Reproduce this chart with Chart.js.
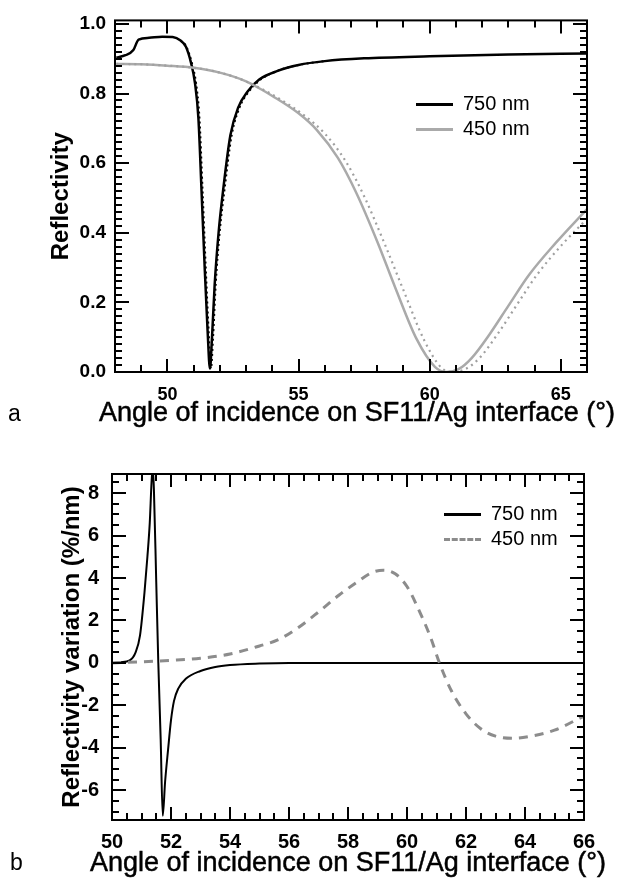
<!DOCTYPE html>
<html>
<head>
<meta charset="utf-8">
<script src="https://cdn.jsdelivr.net/npm/chart.js@4.4.1/dist/chart.umd.min.js"></script>
<style>
  body { margin: 0; background: #fff; font-family: 'Liberation Sans', Arial, sans-serif; }
  #wrap { position: relative; width: 618px; height: 878px; }
  canvas { position: absolute; left: 0; }
  .lg { position: absolute; font-size: 20px; line-height: 24px; color: #000; white-space: nowrap; }
  .lg span.sw { display: inline-block; width: 37px; vertical-align: middle; margin-right: 10px; }
  .panel { position: absolute; font-size: 23px; line-height: 26px; }
  .xt { position: absolute; font-size: 27px; line-height: 30px; color: #000; white-space: nowrap; -webkit-text-stroke: 0.5px #000; }
</style>
</head>
<body>
<div id="wrap">
  <canvas id="chartA" width="618" height="438" style="top:0"></canvas>
  <canvas id="chartB" width="618" height="438" style="top:440px"></canvas>
  <div class="lg" style="left:416px;top:91px"><span class="sw" style="border-top:3px solid #000"></span>750 nm</div>
  <div class="lg" style="left:416px;top:116px"><span class="sw" style="border-top:3px solid #aaa"></span>450 nm</div>
  <div class="lg" style="left:444px;top:501px"><span class="sw" style="border-top:3px solid #000"></span>750 nm</div>
  <div class="lg" style="left:444px;top:526px"><span class="sw" style="border-top:3px dashed #8c8c8c"></span>450 nm</div>
  <div class="xt" style="left:99px;top:397px">Angle of incidence on SF11/Ag interface (°)</div>
  <div class="xt" style="left:90px;top:847px">Angle of incidence on SF11/Ag interface (°)</div>
  <div class="panel" style="left:8px;top:400px">a</div>
  <div class="panel" style="left:10px;top:849px">b</div>
</div>
<script>
// ---- panel a: reflectivity ----
const angleA750 = [48.05, 48.4, 48.7, 48.9, 49.3, 49.8, 50.2, 50.5, 50.7, 50.9, 51.05, 51.18, 51.3, 51.42, 51.53, 51.62, 51.7, 51.8, 51.95, 52.12, 52.4, 52.7, 53.05, 53.5, 54.2, 55.0, 56.0, 57.5, 60.0, 63.0, 66.0];
const reflA750 = [0.903, 0.91, 0.925, 0.955, 0.96, 0.963, 0.962, 0.952, 0.935, 0.888, 0.83, 0.73, 0.52, 0.3, 0.12, 0.01, 0.1, 0.25, 0.4, 0.52, 0.68, 0.76, 0.805, 0.84, 0.865, 0.882, 0.893, 0.901, 0.907, 0.912, 0.915];
// dotted companion of the 750 nm curve (almost on top of it)
const angleA750dot = [50.5, 50.72, 50.93, 51.09, 51.22, 51.34, 51.46, 51.57, 51.66, 51.74, 51.84, 51.99, 52.17, 52.45, 52.75, 53.1, 53.55, 54.2, 55.0, 56.0];
const reflA750dot = [0.952, 0.935, 0.888, 0.83, 0.73, 0.52, 0.3, 0.12, 0.01, 0.1, 0.25, 0.4, 0.52, 0.68, 0.76, 0.805, 0.84, 0.865, 0.882, 0.893];
const angleA450 = [48.05, 49, 50, 51, 52, 53, 53.5, 54, 55, 55.7, 56.5, 57.2, 58.0, 58.7, 59.5, 60.2, 60.65, 61.1, 61.6, 62.3, 63.0, 63.8, 64.8, 66.0];
const reflA450 = [0.885, 0.884, 0.88, 0.874, 0.86, 0.835, 0.815, 0.793, 0.743, 0.695, 0.615, 0.515, 0.375, 0.24, 0.095, 0.015, 0.0, 0.008, 0.04, 0.11, 0.19, 0.28, 0.37, 0.468];
const angleA450dot = [48.05, 49, 50, 51, 52, 53, 53.6, 54.2, 55.2, 56.0, 56.8, 57.5, 58.3, 59.0, 59.8, 60.45, 60.9, 61.35, 61.9, 62.6, 63.3, 64.1, 65.1, 66.0];
const reflA450dot = [0.885, 0.884, 0.88, 0.874, 0.86, 0.835, 0.813, 0.788, 0.738, 0.685, 0.605, 0.505, 0.365, 0.235, 0.09, 0.012, 0.0, 0.008, 0.04, 0.11, 0.19, 0.28, 0.37, 0.44];
const xTicksA = [50, 55, 60, 65];
const yTicksA = [0, 0.2, 0.4, 0.6, 0.8, 1.0];

// ---- panel b: reflectivity variation ----
const angleB750 = [50.0, 50.3, 50.6, 50.8, 50.95, 51.1, 51.2, 51.28, 51.34, 51.38, 51.42, 51.5, 51.57, 51.65, 51.72, 51.8, 51.9, 52.0, 52.1, 52.25, 52.5, 53.0, 53.5, 54.0, 55.0, 56.0, 66.0];
const varB750 = [0.0, 0.03, 0.12, 0.5, 1.3, 3.3, 5.0, 6.6, 8.5, 9.2, 8.2, 3.8, 0.0, -3.6, -7.2, -5.6, -4.1, -2.7, -1.8, -1.2, -0.75, -0.38, -0.19, -0.1, -0.03, 0.0, 0.0];
const angleB450 = [50, 51, 52, 53, 54, 55, 55.6, 56.3, 57, 57.7, 58.3, 58.8, 59.2, 59.6, 60.0, 60.4, 60.8, 61.1, 61.5, 62.0, 62.5, 63.0, 63.6, 64.2, 65.0, 66.0];
const varB450 = [0.0, 0.05, 0.12, 0.22, 0.42, 0.8, 1.07, 1.65, 2.4, 3.2, 3.8, 4.25, 4.37, 4.2, 3.6, 2.5, 1.2, 0.0, -1.3, -2.4, -3.1, -3.45, -3.55, -3.45, -3.17, -2.5];
const xTicksB = [50, 52, 54, 56, 58, 60, 62, 64, 66];
const yTicksB = [-6, -4, -2, 0, 2, 4, 6, 8];

const pts = (xs, ys) => xs.map((x, i) => ({ x: x, y: ys[i] }));
const FONT = "'Liberation Sans', Arial, sans-serif";

// frame + inward ticks on all four sides
const frameTicks = {
  id: 'frameTicks',
  afterDatasetsDraw(chart, args, o) {
    const { ctx, chartArea: a, scales: { x, y } } = chart;
    ctx.save();
    ctx.strokeStyle = '#000';
    ctx.lineWidth = 2;
    ctx.beginPath();
    const steps = (min, max, step) => {
      const out = [];
      for (let v = Math.ceil(min / step - 1e-6) * step; v <= max + 1e-6; v += step) out.push(+v.toFixed(4));
      return out;
    };
    const isMajor = (v, step) => Math.abs(v / step - Math.round(v / step)) < 1e-4;
    steps(x.min, x.max, o.xMinor).forEach(v => {
      const px = Math.round(x.getPixelForValue(v));
      const len = isMajor(v, o.xMajor) ? o.majLen : o.minLen;
      ctx.moveTo(px, a.bottom); ctx.lineTo(px, a.bottom - len);
      ctx.moveTo(px, a.top); ctx.lineTo(px, a.top + len);
    });
    steps(y.min, y.max, o.yMinor).forEach(v => {
      const py = Math.round(y.getPixelForValue(v));
      const len = isMajor(v, o.yMajor) ? o.majLen + 1 : o.minLen;
      ctx.moveTo(a.left, py); ctx.lineTo(a.left + len, py);
      ctx.moveTo(a.right, py); ctx.lineTo(a.right - len, py);
    });
    ctx.stroke();
    ctx.strokeRect(a.left, a.top, a.right - a.left, a.bottom - a.top);
    ctx.restore();
  }
};

function axisX(min, max, ticks, size, pad, height) {
  return {
    type: 'linear', min: min, max: max,
    grid: { display: false, drawTicks: false },
    border: { display: false },
    afterBuildTicks: s => { s.ticks = ticks.map(v => ({ value: v })); },
    afterFit: s => { s.height = height; },
    ticks: { color: '#000', font: { family: FONT, size: size, weight: 'bold' }, padding: pad, maxRotation: 0, autoSkip: false },
    title: { display: false }
  };
}

function axisY(min, max, ticks, fmt, size, pad, title, titlePad, width) {
  return {
    type: 'linear', min: min, max: max,
    grid: { display: false, drawTicks: false },
    border: { display: false },
    afterBuildTicks: s => { s.ticks = ticks.map(v => ({ value: v })); },
    afterFit: s => { s.width = width; },
    ticks: { color: '#000', font: { family: FONT, size: size, weight: 'bold' }, padding: pad, callback: fmt },
    title: { display: true, text: title, color: '#000',
             font: { family: FONT, size: 24, weight: 'bold' }, padding: { top: titlePad, bottom: 0 } }
  };
}

const chartA = new Chart(document.getElementById('chartA'), {
  type: 'line',
  data: {
    datasets: [
      { label: '450 nm dotted', data: pts(angleA450dot, reflA450dot), borderColor: '#a0a0a0', borderWidth: 2.2, borderDash: [2, 4], pointRadius: 0, cubicInterpolationMode: 'monotone' },
      { label: '450 nm', data: pts(angleA450, reflA450), borderColor: '#aaaaaa', borderWidth: 2.5, pointRadius: 0, cubicInterpolationMode: 'monotone' },
      { label: '750 nm dotted', data: pts(angleA750dot, reflA750dot), borderColor: '#000', borderWidth: 2, borderDash: [2, 3], pointRadius: 0, cubicInterpolationMode: 'monotone' },
      { label: '750 nm', data: pts(angleA750, reflA750), borderColor: '#000', borderWidth: 2.5, pointRadius: 0, cubicInterpolationMode: 'monotone' }
    ]
  },
  options: {
    responsive: false, animation: false,
    layout: { padding: { top: 18, right: 31, left: 0, bottom: 0 } },
    plugins: { legend: { display: false }, tooltip: { enabled: false },
               frameTicks: { xMinor: 1, xMajor: 5, yMinor: 0.02, yMajor: 0.2, majLen: 13, minLen: 7 } },
    scales: {
      x: axisX(48, 66, xTicksA, 18, 12, 66),
      y: axisY(0, 1.01, yTicksA, v => v.toFixed(1), 19, 9, 'Reflectivity', 47, 115)
    }
  },
  plugins: [frameTicks]
});

const chartB = new Chart(document.getElementById('chartB'), {
  type: 'line',
  data: {
    datasets: [
      { label: '450 nm', data: pts(angleB450, varB450), borderColor: '#8c8c8c', borderWidth: 3, borderDash: [9, 7], pointRadius: 0, cubicInterpolationMode: 'monotone' },
      { label: '750 nm', data: pts(angleB750, varB750), borderColor: '#000', borderWidth: 2, pointRadius: 0, cubicInterpolationMode: 'monotone' }
    ]
  },
  options: {
    responsive: false, animation: false,
    layout: { padding: { top: 34, right: 34, left: 0, bottom: 0 } },
    plugins: { legend: { display: false }, tooltip: { enabled: false },
               frameTicks: { xMinor: 0.5, xMajor: 2, yMinor: 0.5, yMajor: 2, majLen: 13, minLen: 7 } },
    scales: {
      x: axisX(50, 66, xTicksB, 20, 10, 58),
      y: axisY(-7.4, 8.9, yTicksB, v => String(v), 20, 13, 'Reflectivity variation (%/nm)', 58, 112)
    }
  },
  plugins: [frameTicks]
});
</script>
</body>
</html>
